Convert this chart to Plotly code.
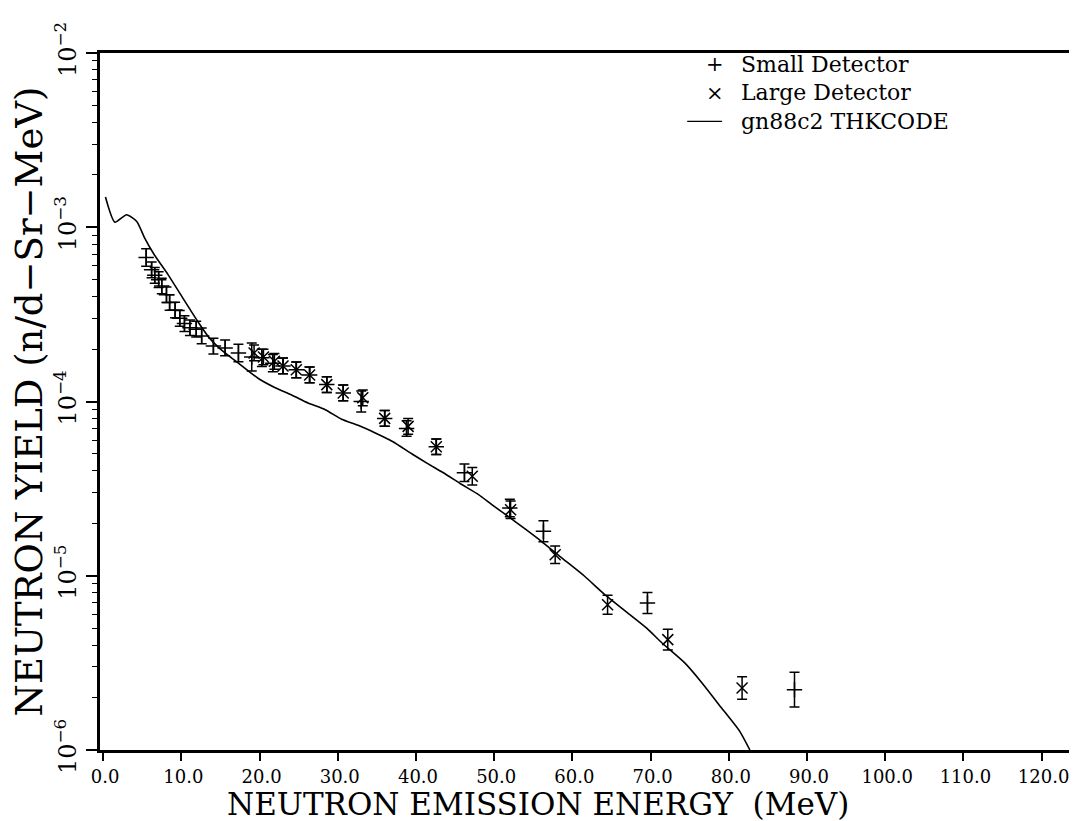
import numpy as np
import plotly.graph_objects as go

# ---- data ----
curve_E = [0.3, 1.5, 3.0, 4.3, 5.3, 6.5, 8.3, 10.0, 12.1, 13.6, 15.0, 17.3, 19.8, 22.0, 24.1,
           26.2, 28.4, 30.5, 32.6, 34.8, 37.0, 39.5, 41.5, 43.5, 45.8, 48.0, 49.7, 51.8, 54.0,
           56.0, 58.6, 61.6, 64.0, 67.1, 69.5, 71.5, 74.4, 76.5, 79.0, 81.4, 82.7]
curve_Y = [1.49e-3, 1.07e-3, 1.18e-3, 1.08e-3, 8.7e-4, 7.0e-4, 5.35e-4, 4.05e-4, 2.88e-4, 2.31e-4,
           2.0e-4, 1.66e-4, 1.36e-4, 1.2e-4, 1.09e-4, 9.8e-5, 8.97e-5, 7.9e-5, 7.3e-5, 6.6e-5,
           5.9e-5, 5.0e-5, 4.4e-5, 3.9e-5, 3.35e-5, 2.92e-5, 2.56e-5, 2.19e-5, 1.85e-5, 1.58e-5,
           1.27e-5, 9.9e-6, 7.9e-6, 6.1e-6, 5.0e-6, 4.1e-6, 3.15e-6, 2.45e-6, 1.76e-6, 1.28e-6, 1.0e-6]

small_E = [5.5, 6.2, 6.6, 7.1, 7.5, 8.1, 8.5, 9.2, 9.8, 10.4, 11.1, 11.9, 12.6, 14.1, 15.6, 17.3,
           19.0, 20.3, 21.7, 23.0, 24.7, 26.4, 28.6, 30.7, 33.0, 36.0, 38.8, 42.6, 46.2, 52.0,
           56.3, 69.6, 88.4]
small_Y = [6.7e-4, 5.7e-4, 5.3e-4, 5.0e-4, 4.6e-4, 4.1e-4, 3.7e-4, 3.35e-4, 3.0e-4, 2.8e-4,
           2.65e-4, 2.6e-4, 2.38e-4, 2.08e-4, 2.03e-4, 1.9e-4, 1.8e-4, 1.78e-4, 1.66e-4, 1.6e-4,
           1.52e-4, 1.42e-4, 1.25e-4, 1.12e-4, 1.0e-4, 8.0e-5, 7.0e-5, 5.5e-5, 3.9e-5, 2.45e-5,
           1.8e-5, 6.98e-6, 2.22e-6]
# half-width of error bar in decades
small_D = [0.05, 0.045, 0.045, 0.045, 0.045, 0.045, 0.045, 0.045, 0.045, 0.045, 0.045, 0.045,
           0.045, 0.045, 0.045, 0.05, 0.08, 0.05, 0.05, 0.045, 0.045, 0.045, 0.045, 0.045, 0.06,
           0.045, 0.045, 0.045, 0.05, 0.05, 0.06, 0.06, 0.1]

large_E = [19.3, 20.5, 21.9, 23.0, 24.7, 26.4, 28.6, 30.7, 33.2, 36.0, 39.0, 42.6, 47.2, 52.1,
           57.8, 64.5, 72.2, 81.7]
large_Y = [1.9e-4, 1.8e-4, 1.7e-4, 1.6e-4, 1.52e-4, 1.42e-4, 1.25e-4, 1.12e-4, 1.05e-4, 8.0e-5,
           7.2e-5, 5.5e-5, 3.72e-5, 2.39e-5, 1.32e-5, 6.82e-6, 4.3e-6, 2.27e-6]
large_D = [0.045, 0.045, 0.045, 0.045, 0.045, 0.045, 0.045, 0.045, 0.045, 0.045, 0.045, 0.045,
           0.05, 0.05, 0.05, 0.055, 0.06, 0.065]

x_ticks = [0, 10, 20, 30, 40, 50, 60, 70, 80, 90, 100, 110, 120]
x_ticktext = ["0.0", "10.0", "20.0", "30.0", "40.0", "50.0", "60.0", "70.0", "80.0", "90.0",
              "100.0", "110.0", "120.0"]
y_ticks = [1e-6, 1e-5, 1e-4, 1e-3, 1e-2]
y_ticktext = ["10<sup>−6</sup>", "10<sup>−5</sup>", "10<sup>−4</sup>", "10<sup>−3</sup>", "10<sup>−2</sup>"]
y_minor = [m * 10.0 ** e for e in range(-6, -2) for m in range(2, 10)]

x_title = "NEUTRON EMISSION ENERGY  (MeV)"
y_title = "NEUTRON YIELD (n/d−Sr−MeV)"
legend_names = ["Small Detector", "Large Detector", "gn88c2 THKCODE"]
legend_symbols = ["+", "×"]

FONT = "DejaVu Serif"


def err(vals, d):
    v = np.array(vals)
    d = np.array(d)
    return v * (10 ** d - 1), v * (1 - 10 ** (-d))


su, sl = err(small_Y, small_D)
lu, ll = err(large_Y, large_D)

fig = go.Figure()
fig.add_trace(go.Scatter(
    x=small_E, y=small_Y, mode="markers", name=legend_names[0],
    marker=dict(symbol="cross-thin", size=11, color="black", line=dict(color="black", width=1.5)),
    error_y=dict(type="data", array=su, arrayminus=sl, color="black", thickness=1.5, width=5),
))
fig.add_trace(go.Scatter(
    x=large_E, y=large_Y, mode="markers", name=legend_names[1],
    marker=dict(symbol="x-thin", size=11, color="black", line=dict(color="black", width=1.5)),
    error_y=dict(type="data", array=lu, arrayminus=ll, color="black", thickness=1.5, width=5),
))
fig.add_trace(go.Scatter(
    x=curve_E, y=curve_Y, mode="lines", name=legend_names[2],
    line=dict(color="black", width=1.6, shape="spline", smoothing=0.6),
))

# legend drawn as text (compact, like the original key)
row_y = [0.984, 0.943, 0.902]
for i, name in enumerate(legend_names):
    fig.add_annotation(text=name, xref="paper", yref="paper", x=0.659, y=row_y[i],
                       xanchor="left", yanchor="middle", showarrow=False,
                       font=dict(family=FONT, size=22, color="black"))
for i, s in enumerate(legend_symbols):
    fig.add_annotation(text=s, xref="paper", yref="paper", x=0.635, y=row_y[i],
                       xanchor="center", yanchor="middle", showarrow=False,
                       font=dict(family=FONT, size=21, color="black"))
fig.add_shape(type="line", xref="paper", yref="paper", x0=0.606, x1=0.642,
              y0=row_y[2], y1=row_y[2], line=dict(color="black", width=1.2))

fig.add_annotation(
    text=x_title, xref="paper", yref="paper", x=0.452, y=-0.078,
    xanchor="center", yanchor="middle", showarrow=False,
    font=dict(family=FONT, size=31, color="black"),
)

fig.update_layout(
    width=1077, height=821,
    margin=dict(l=92, r=16, t=45, b=79),
    paper_bgcolor="white", plot_bgcolor="white",
    font=dict(family=FONT, color="black", size=20),
    showlegend=False,
    xaxis=dict(
        range=[-0.4, 123.5], tickmode="array", tickvals=x_ticks, ticktext=x_ticktext,
        ticks="outside", ticklen=8, tickwidth=1.5, tickcolor="black",
        showline=True, linewidth=3, linecolor="black", mirror=True,
        showgrid=False, zeroline=False, ticklabelshift=2,
        tickfont=dict(family=FONT, size=18),
    ),
    yaxis=dict(
        type="log", range=[-6, -2], tickmode="array", tickvals=y_ticks, ticktext=y_ticktext,
        tickangle=-90, ticks="outside", ticklen=11, tickwidth=1.5, tickcolor="black",
        minor=dict(tickmode="array", tickvals=y_minor, ticks="outside", ticklen=5, tickwidth=1,
                   tickcolor="black", showgrid=False),
        showline=True, linewidth=3, linecolor="black", mirror=True,
        showgrid=False, zeroline=False,
        tickfont=dict(family=FONT, size=24),
        title=dict(text=y_title, font=dict(family=FONT, size=37), standoff=0),
    ),
)

fig.write_html("out.html")
